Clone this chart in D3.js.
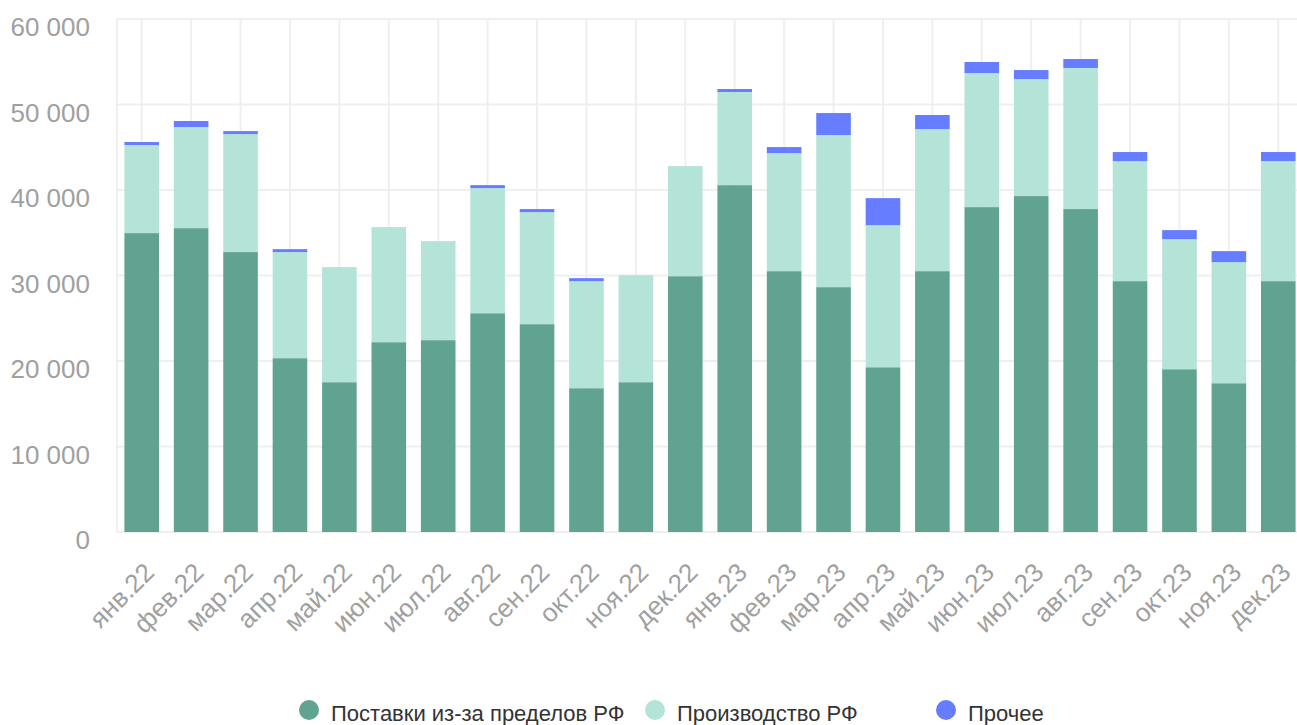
<!DOCTYPE html>
<html>
<head>
<meta charset="utf-8">
<script src="https://cdn.jsdelivr.net/npm/d3@7"></script>
<style>
  html, body { margin: 0; padding: 0; background: #fff; }
  svg { display: block; font-family: "Liberation Sans", Arial, Helvetica, sans-serif; }
</style>
</head>
<body>
<svg id="chart" width="1297" height="725"></svg>
<script>
// months
const months = ["янв.22", "фев.22", "мар.22", "апр.22", "май.22", "июн.22", "июл.22", "авг.22",
  "сен.22", "окт.22", "ноя.22", "дек.22", "янв.23", "фев.23", "мар.23", "апр.23",
  "май.23", "июн.23", "июл.23", "авг.23", "сен.23", "окт.23", "ноя.23", "дек.23"];

// series values
const imports = [34960, 35540, 32740, 20330, 17520, 22200, 22440, 25590, 24310, 16820, 17520, 29920,
  40570, 30510, 28640, 19270, 30510, 38000, 39290, 37770, 29340, 19040, 17400, 29340];
const production = [10300, 11830, 13800, 12410, 13460, 13460, 11580, 14630, 13100, 12520, 12520, 12880,
  10890, 13810, 17790, 16620, 16620, 15680, 13690, 16500, 14040, 15210, 14160, 14040];
const other = [350, 700, 350, 340, 0, 0, 0, 350, 360, 350, 0, 0,
  350, 700, 2570, 3160, 1640, 1290, 1050, 1050, 1060, 1060, 1290, 1060];

const seriesNames = ["Поставки из-за пределов РФ", "Производство РФ", "Прочее"];
const yTicks = [0, 10000, 20000, 30000, 40000, 50000, 60000];

const colors = ["#61a391", "#b4e3d7", "#667dff"];

const svg = d3.select("#chart");
const plotLeft = 117, plotRight = 1303, plotTop = 19, plotBottom = 532;

const table = months.map((m, i) => ({ month: m, imp: imports[i], prod: production[i], oth: other[i] }));
const keys = ["imp", "prod", "oth"];
const stacked = d3.stack().keys(keys)(table);

const x = d3.scaleBand()
  .domain(months)
  .range([plotLeft, plotRight])
  .paddingInner(0.3)
  .paddingOuter(0.15);

const y = d3.scaleLinear()
  .domain([0, 60000])
  .range([plotBottom, plotTop]);

// grid
const grid = svg.append("g");
grid.selectAll("line.h")
  .data(yTicks)
  .enter().append("line")
  .attr("x1", plotLeft).attr("x2", 1297)
  .attr("y1", d => y(d)).attr("y2", d => y(d))
  .attr("stroke", "#efefef").attr("stroke-width", 2);
grid.selectAll("line.v")
  .data(months)
  .enter().append("line")
  .attr("x1", d => x(d) + x.bandwidth() / 2).attr("x2", d => x(d) + x.bandwidth() / 2)
  .attr("y1", plotTop).attr("y2", plotBottom)
  .attr("stroke", "#efefef").attr("stroke-width", 2);
grid.append("line")
  .attr("x1", plotLeft).attr("x2", plotLeft)
  .attr("y1", plotTop).attr("y2", plotBottom)
  .attr("stroke", "#efefef").attr("stroke-width", 2);

// bars
svg.append("g")
  .selectAll("g")
  .data(stacked)
  .enter().append("g")
  .attr("fill", (d, i) => colors[i])
  .selectAll("rect")
  .data(d => d)
  .enter().append("rect")
  .attr("x", d => x(d.data.month))
  .attr("width", x.bandwidth())
  .attr("y", d => y(d[1]))
  .attr("height", d => y(d[0]) - y(d[1]));

// y axis labels
const fmt = d => d3.format(",")(d).replace(/,/g, " ");
svg.append("g")
  .selectAll("text")
  .data(yTicks)
  .enter().append("text")
  .attr("x", 90)
  .attr("y", d => y(d) + 17)
  .attr("text-anchor", "end")
  .attr("fill", "#a0a0a0")
  .attr("font-size", 26)
  .text(fmt);

// x axis labels
svg.append("g")
  .selectAll("text")
  .data(months)
  .enter().append("text")
  .attr("text-anchor", "end")
  .attr("fill", "#a0a0a0")
  .attr("font-size", 26)
  .attr("transform", d => "translate(" + (x(d) + x.bandwidth() / 2 + 14) + ",574) rotate(-45)")
  .text(d => d);

// legend
const legendX = [309, 655, 946];
const legend = svg.append("g");
seriesNames.forEach((name, i) => {
  legend.append("circle")
    .attr("cx", legendX[i]).attr("cy", 710).attr("r", 10)
    .attr("fill", colors[i]);
  legend.append("text")
    .attr("x", legendX[i] + 22).attr("y", 721)
    .attr("fill", "#333")
    .attr("font-size", 22)
    .text(name);
});
</script>
</body>
</html>
